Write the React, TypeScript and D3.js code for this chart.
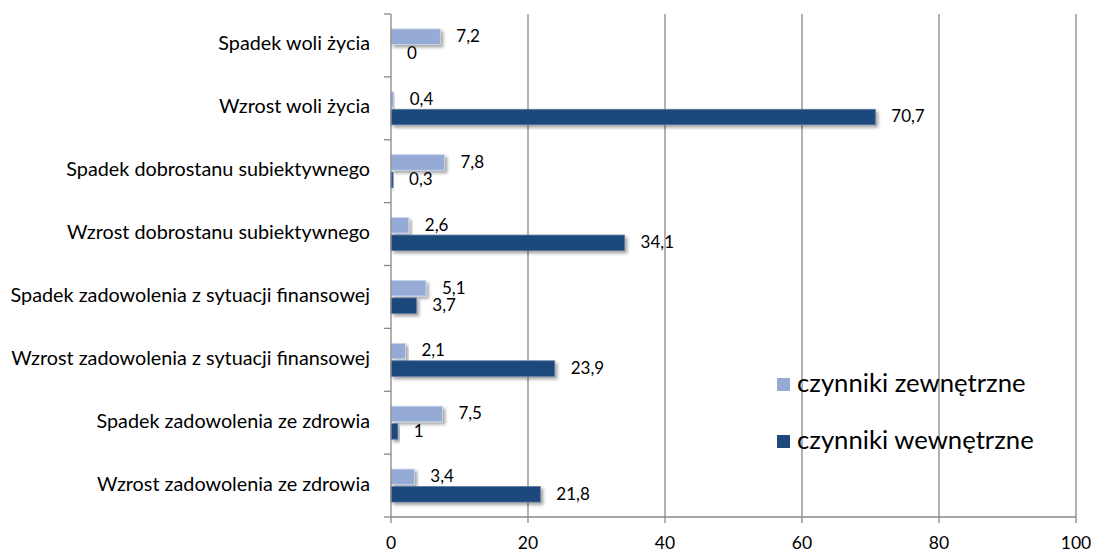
import React from "react";
import * as d3 from "d3";

const categories = [
  "Spadek woli życia",
  "Wzrost woli życia",
  "Spadek dobrostanu subiektywnego",
  "Wzrost dobrostanu subiektywnego",
  "Spadek zadowolenia z sytuacji finansowej",
  "Wzrost zadowolenia z sytuacji finansowej",
  "Spadek zadowolenia ze zdrowia",
  "Wzrost zadowolenia ze zdrowia",
];
const seriesNames = ["czynniki zewnętrzne", "czynniki wewnętrzne"];
const zewnetrzne = [7.2, 0.4, 7.8, 2.6, 5.1, 2.1, 7.5, 3.4];
const wewnetrzne = [0, 70.7, 0.3, 34.1, 3.7, 23.9, 1, 21.8];
const xTicks = [0, 20, 40, 60, 80, 100];
const colors = ["#95ABD6", "#1F487C"];

const W = 1097;
const H = 553;
const M = { left: 391, right: 21, top: 14, bottom: 36 };
const FONT = "Lato, 'Open Sans', sans-serif";
const GRID = "#888888";

export default function App() {
  const x = d3.scaleLinear().domain([0, 100]).range([M.left, W - M.right]);
  const y = d3.scaleBand<string>().domain(categories).range([M.top, H - M.bottom]);
  const sub = d3
    .scaleBand<string>()
    .domain(seriesNames)
    .range([0, y.bandwidth()])
    .paddingInner(0.114)
    .paddingOuter(0.854);
  const values = [zewnetrzne, wewnetrzne];
  const fmt = (v: number) => String(v).replace(".", ",");
  const y0 = H - M.bottom;

  return (
    <svg width={W} height={H} style={{ position: "absolute", left: 0, top: 0, background: "#fff" }}>
      <defs>
        <filter id="sh" x="-10%" y="-50%" width="130%" height="250%">
          <feDropShadow dx="2.5" dy="2.5" stdDeviation="1.5" floodColor="#000" floodOpacity="0.35" />
        </filter>
      </defs>
      {/* gridlines */}
      {xTicks.map((t) => (
        <g key={t}>
          {t > 0 && (
            <line x1={x(t)} x2={x(t)} y1={M.top} y2={y0} stroke={GRID} strokeWidth={1.3} />
          )}
          <line x1={x(t)} x2={x(t)} y1={y0} y2={y0 + 6} stroke={GRID} strokeWidth={1.3} />
          <text
            x={x(t)}
            y={545}
            textAnchor="middle"
            dominantBaseline="middle"
            fontFamily={FONT}
            fontSize={17.5}
            fill="#000"
          >
            {t}
          </text>
        </g>
      ))}
      {/* bars */}
      {categories.map((c, i) => (
        <g key={c}>
          {seriesNames.map((s, j) => {
            const v = values[j][i];
            const by = (y(c) as number) + (sub(s) as number);
            const bh = sub.bandwidth();
            return (
              <g key={s}>
                {v > 0 && (
                  <rect
                    x={x(0)}
                    y={by}
                    width={x(v) - x(0)}
                    height={bh}
                    fill={colors[j]}
                    stroke={j === 0 ? "#c9d5ec" : "#5a77a0"}
                    strokeWidth={0.8}
                    filter="url(#sh)"
                  />
                )}
                <text
                  x={x(v) + 16}
                  y={by + bh / 2 + 1}
                  dominantBaseline="middle"
                  fontFamily={FONT}
                  fontSize={17}
                  fill="#000"
                >
                  {fmt(v)}
                </text>
              </g>
            );
          })}
          <text
            x={M.left - 21}
            y={(y(c) as number) + y.bandwidth() / 2}
            textAnchor="end"
            dominantBaseline="middle"
            fontFamily={FONT}
            fontSize={19.8}
            fill="#000"
          >
            {c}
          </text>
        </g>
      ))}
      {/* axes */}
      <line x1={x(0)} x2={x(0)} y1={M.top} y2={y0} stroke={GRID} strokeWidth={1.3} />
      <line x1={x(0)} x2={x(100)} y1={y0} y2={y0} stroke={GRID} strokeWidth={1.3} />
      {d3.range(categories.length + 1).map((k) => {
        const yy = M.top + k * y.step();
        return <line key={k} x1={x(0) - 7} x2={x(0)} y1={yy} y2={yy} stroke={GRID} strokeWidth={1.3} />;
      })}
      {/* legend */}
      {seriesNames.map((s, j) => (
        <g key={s} transform={`translate(777, ${378 + j * 57})`}>
          <rect x={0} y={0} width={13} height={13} fill={colors[j]} />
          <text x={20} y={7} dominantBaseline="middle" fontFamily={FONT} fontSize={25.7} fill="#000">
            {s}
          </text>
        </g>
      ))}
    </svg>
  );
}
